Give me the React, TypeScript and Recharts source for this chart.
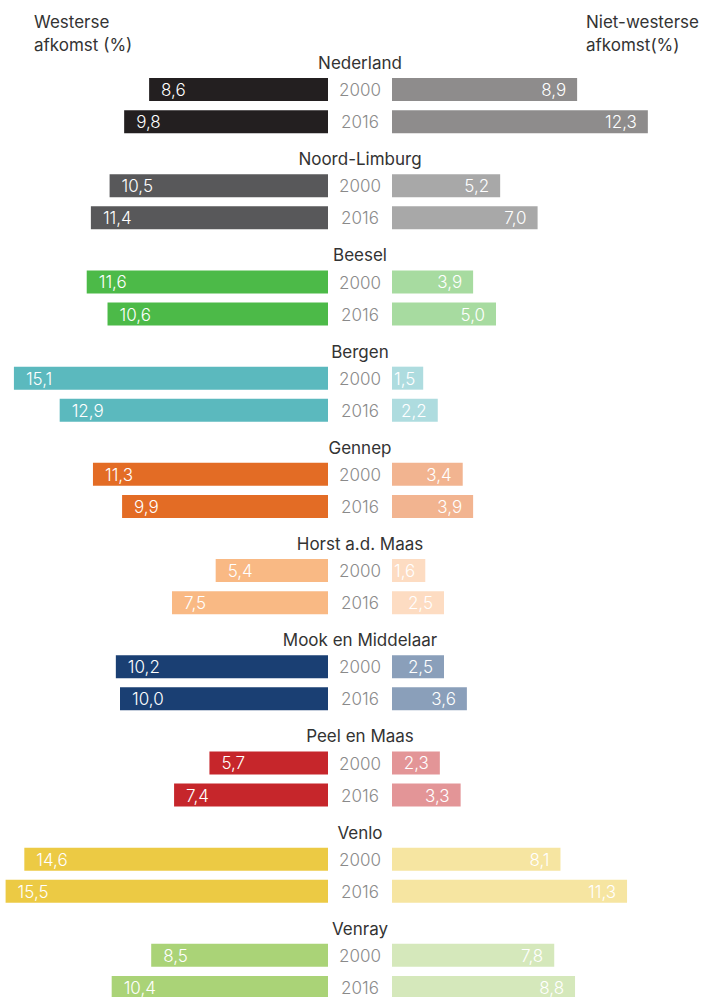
import { Bar, BarChart, Cell, LabelList, XAxis, YAxis } from "recharts";

const REGIONS = [
  "Nederland",
  "Noord-Limburg",
  "Beesel",
  "Bergen",
  "Gennep",
  "Horst a.d. Maas",
  "Mook en Middelaar",
  "Peel en Maas",
  "Venlo",
  "Venray",
];
const YEARS = ["2000", "2016"];

const WEST_2000 = [8.6, 10.5, 11.6, 15.1, 11.3, 5.4, 10.2, 5.7, 14.6, 8.5];
const WEST_2016 = [9.8, 11.4, 10.6, 12.9, 9.9, 7.5, 10.0, 7.4, 15.5, 10.4];
const NONWEST_2000 = [8.9, 5.2, 3.9, 1.5, 3.4, 1.6, 2.5, 2.3, 8.1, 7.8];
const NONWEST_2016 = [12.3, 7.0, 5.0, 2.2, 3.9, 2.5, 3.6, 3.3, 11.3, 8.8];

const WEST_COLORS = [
  "#231f20",
  "#58585a",
  "#4cba48",
  "#5bb9be",
  "#e36c25",
  "#f9b984",
  "#1a3f73",
  "#c6262b",
  "#ecca44",
  "#aad377",
];
const NONWEST_COLORS = [
  "#8e8c8c",
  "#a8a8a8",
  "#a7dba0",
  "#aedcdf",
  "#f2b490",
  "#fddcc2",
  "#8a9fba",
  "#e39597",
  "#f6e5a1",
  "#d5e8bb",
];

type Row = {
  key: string;
  kind: "title" | "year";
  label: string;
  region: number;
  west?: number;
  nonwest?: number;
};

const rows: Row[] = [];
REGIONS.forEach((name, i) => {
  rows.push({ key: `t-${i}`, kind: "title", label: name, region: i });
  rows.push({ key: `a-${i}`, kind: "year", label: YEARS[0], region: i, west: WEST_2000[i], nonwest: NONWEST_2000[i] });
  rows.push({ key: `b-${i}`, kind: "year", label: YEARS[1], region: i, west: WEST_2016[i], nonwest: NONWEST_2016[i] });
});

const W = 710;
const LEFT_W = 328;
const GAP = 64;
const PX_PER_UNIT = 20.8;
const ROW_H = 32.08;
const TOP = 41;
const H = Math.round(TOP + rows.length * ROW_H);
const FONT = "Inter, Roboto, sans-serif";

const fmt = (v: number) => v.toFixed(1).replace(".", ",");

const WestLabel = (props: any) => {
  const { x, y, width, height, value } = props;
  if (value == null) return null;
  const left = Math.min(x, x + width);
  return (
    <text x={left + 12} y={y + height / 2 + 6.5} fill="#fff" fontSize={17} fontWeight={300} fontFamily={FONT}>
      {fmt(value)}
    </text>
  );
};

const NonWestLabel = (props: any) => {
  const { x, y, width, height, value } = props;
  if (value == null) return null;
  const start = Math.min(x, x + width);
  const end = Math.max(x, x + width);
  const s = fmt(value);
  const textW = (s.length - 1) * 10.2 + 4.5;
  const fits = end - 11 - textW >= start + 2;
  return (
    <text
      x={fits ? end - 11 : start + 2}
      y={y + height / 2 + 6.5}
      textAnchor={fits ? "end" : "start"}
      fill="#fff"
      fontSize={17}
      fontWeight={300}
      fontFamily={FONT}
    >
      {s}
    </text>
  );
};

// year labels and region names sit in the gap between the two halves
const MiddleTick = (props: any) => {
  const { y, payload } = props;
  const row = rows.find((r) => r.key === payload.value);
  if (!row) return null;
  const cx = LEFT_W + GAP / 2;
  if (row.kind === "title") {
    return (
      <text x={cx} y={y + 12} textAnchor="middle" fill="#333" fontSize={17} fontFamily={FONT}>
        {row.label}
      </text>
    );
  }
  return (
    <text x={cx} y={y + 7} textAnchor="middle" fill="#8a8a8a" fontSize={17} fontWeight={300} fontFamily={FONT}>
      {row.label}
    </text>
  );
};

const headerStyle: React.CSSProperties = {
  position: "absolute",
  top: 11,
  fontFamily: FONT,
  fontSize: 17,
  lineHeight: "23px",
  color: "#333",
  fontWeight: 400,
  whiteSpace: "nowrap",
};

export default function App() {
  return (
    <div style={{ position: "absolute", left: 0, top: 0, width: W, height: 997, overflow: "hidden", background: "#fff" }}>
      <div style={{ ...headerStyle, left: 34 }}>
        Westerse
        <br />
        afkomst (%)
      </div>
      <div style={{ ...headerStyle, left: 586 }}>
        Niet-westerse
        <br />
        afkomst(%)
      </div>

      <div style={{ position: "absolute", left: 0, top: 0 }}>
        <BarChart
          width={W}
          height={H}
          data={rows}
          layout="vertical"
          margin={{ top: TOP, right: W - LEFT_W, bottom: 0, left: 0 }}
          barSize={23}
        >
          <XAxis type="number" hide reversed domain={[0, LEFT_W / PX_PER_UNIT]} allowDataOverflow />
          <YAxis type="category" dataKey="key" hide />
          <Bar dataKey="west" isAnimationActive={false}>
            {rows.map((r) => (
              <Cell key={r.key} fill={WEST_COLORS[r.region]} />
            ))}
            <LabelList dataKey="west" content={WestLabel} />
          </Bar>
        </BarChart>
      </div>

      <div style={{ position: "absolute", left: 0, top: 0 }}>
        <BarChart
          width={W}
          height={H}
          data={rows}
          layout="vertical"
          margin={{ top: TOP, right: 0, bottom: 0, left: LEFT_W }}
          barSize={23}
        >
          <XAxis type="number" hide domain={[0, (W - LEFT_W - GAP) / PX_PER_UNIT]} allowDataOverflow />
          <YAxis
            type="category"
            dataKey="key"
            width={GAP}
            interval={0}
            axisLine={false}
            tickLine={false}
            tick={MiddleTick}
          />
          <Bar dataKey="nonwest" isAnimationActive={false}>
            {rows.map((r) => (
              <Cell key={r.key} fill={NONWEST_COLORS[r.region]} />
            ))}
            <LabelList dataKey="nonwest" content={NonWestLabel} />
          </Bar>
        </BarChart>
      </div>
    </div>
  );
}
